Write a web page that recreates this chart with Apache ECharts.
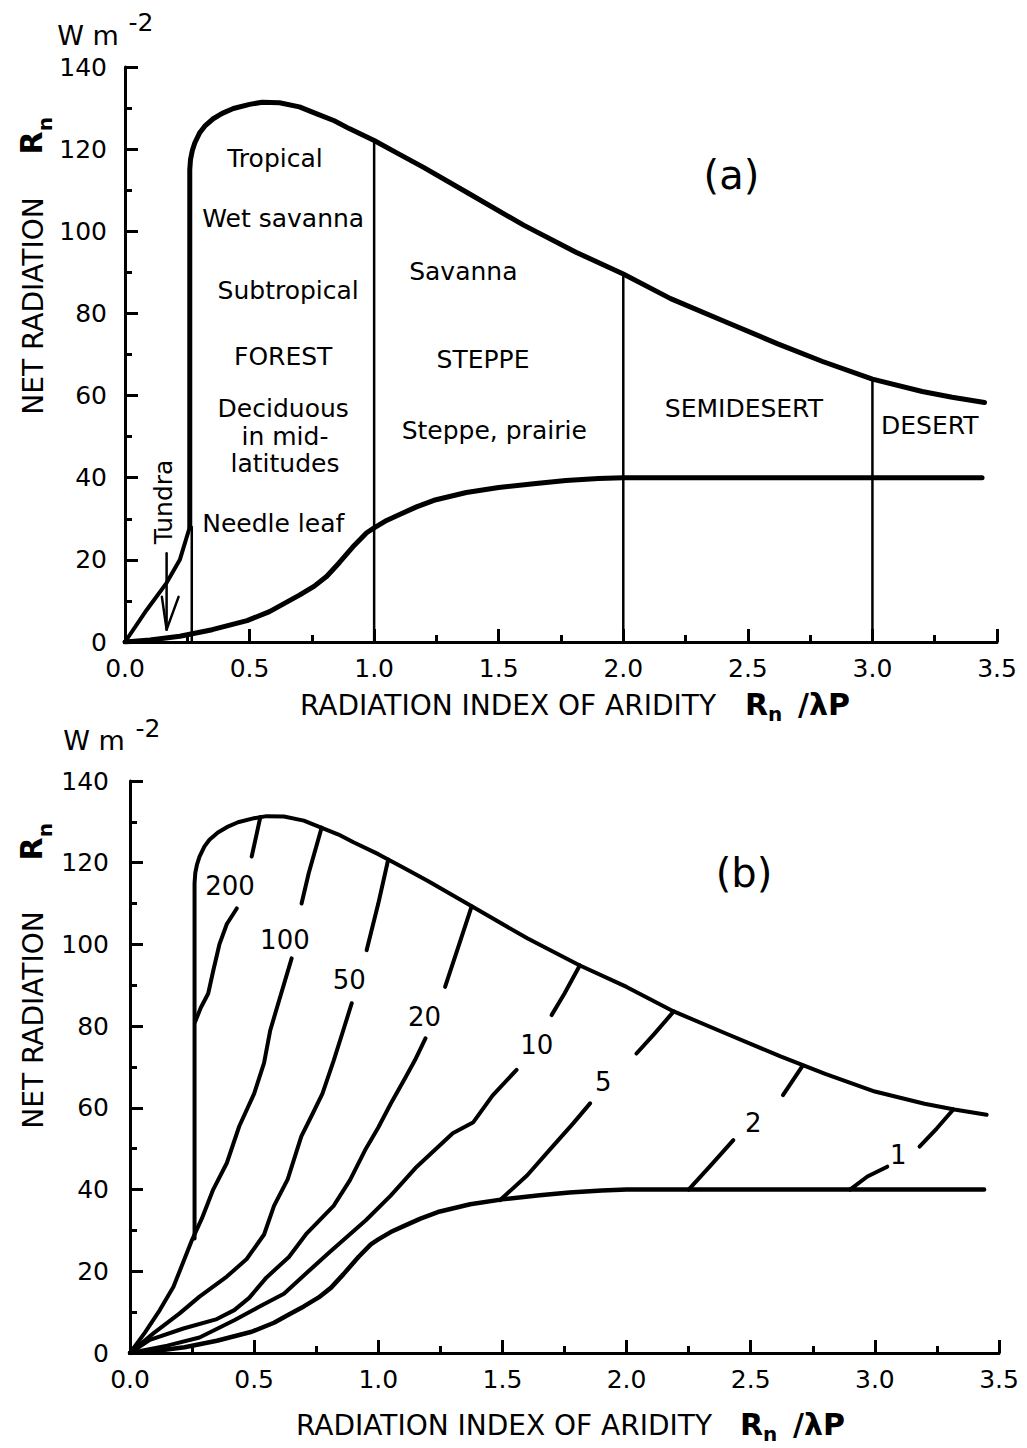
<!DOCTYPE html>
<html>
<head>
<meta charset="utf-8">
<script src="https://cdn.jsdelivr.net/npm/echarts@6/dist/echarts.min.js"></script>
<style>
  html, body { margin: 0; padding: 0; background: #fff; }
  #chart { width: 1027px; height: 1448px; }
</style>
</head>
<body>
<div id="chart"></div>
<script>
const FONT = '"DejaVu Sans", "Liberation Sans", sans-serif';

// ---- axes ----
const xTickLabels = ['0.0', '0.5', '1.0', '1.5', '2.0', '2.5', '3.0', '3.5'];
const yTickLabels = ['0', '20', '40', '60', '80', '100', '120', '140'];

// ---- shared curves: net radiation Rn (W m-2) vs. radiation index of aridity Rn/λP ----
// upper envelope of observed net radiation (starts with the wet edge at ~0.26)
const envelope = [
  [0.26, 28], [0.26, 115], [0.263, 117.5], [0.27, 119.6], [0.28, 121.5], [0.30, 124],
  [0.32, 125.6], [0.354, 127.4], [0.39, 128.7], [0.435, 129.9], [0.5, 130.9], [0.55, 131.4],
  [0.62, 131.3], [0.70, 130.3], [0.77, 128.6], [0.84, 126.9], [0.90, 125], [1.0, 122.1],
  [1.1, 118.8], [1.2, 115.5], [1.38, 109.2], [1.6, 101.5], [1.81, 94.9], [2.0, 89.6],
  [2.19, 83.6], [2.4, 78.2], [2.62, 72.6], [2.8, 68.3], [3.0, 64], [3.2, 61],
  [3.32, 59.6], [3.45, 58.3]
];
// lower limit of net radiation
const lowerLimit = [
  [0, 0], [0.1, 0.5], [0.22, 1.4], [0.35, 3], [0.49, 5.2], [0.58, 7.4], [0.64, 9.4],
  [0.70, 11.4], [0.76, 13.6], [0.81, 16], [0.86, 19.3], [0.92, 23.5], [0.97, 26.6],
  [1.0, 27.8], [1.05, 29.6], [1.1, 31], [1.17, 32.9], [1.24, 34.5], [1.37, 36.4],
  [1.5, 37.6], [1.65, 38.6], [1.77, 39.3], [1.9, 39.8], [2.0, 40], [3.44, 40]
];

// ---- panel (a): vegetation zones ----
const tundraEdge = [[0, 0], [0.087, 7.8], [0.167, 14.4], [0.22, 20], [0.26, 28]];
// zone boundaries: [index of aridity, top of boundary]
const zoneBounds = [[0.268, 28], [1.0, 122.1], [2.0, 89.6], [3.0, 64]];
const tundraArrowShaft = [[0.167, 21.6], [0.167, 3]];
const tundraArrowHead = [[0.148, 11], [0.167, 3], [0.215, 11]];

const zoneNames = [
  'Tropical', 'Wet savanna', 'Subtropical', 'FOREST', 'Deciduous', 'in mid-', 'latitudes',
  'Needle leaf', 'Savanna', 'STEPPE', 'Steppe, prairie', 'SEMIDESERT', 'DESERT'
];
const zoneNamePos = [
  [0.602, 117.8], [0.635, 103.2], [0.655, 85.7], [0.635, 69.5], [0.635, 56.9], [0.642, 50],
  [0.642, 43.5], [0.595, 28.9], [1.358, 90.2], [1.437, 68.7], [1.482, 51.6], [2.484, 56.9],
  [3.23, 52.6]
];
const tundraNamePos = [0.153, 34.1];
const panelAPos = [2.434, 113.7];

// ---- panel (b): isolines, lower and upper pieces of each ----
const contourLevels = ['200', '100', '50', '20', '10', '5', '2', '1'];
const c200Low = [[0.262, 81], [0.285, 84.5], [0.315, 88], [0.335, 93.5], [0.36, 100], [0.39, 105], [0.43, 108.8]];
const c200High = [[0.49, 121.5], [0.51, 127], [0.525, 131.2]];
const c100Low = [
  [0, 0], [0.06, 5], [0.12, 10.5], [0.175, 16.2], [0.25, 27.7], [0.29, 33], [0.335, 40],
  [0.39, 46.5], [0.44, 55.5], [0.5, 63.5], [0.54, 71], [0.565, 79], [0.605, 87.2], [0.651, 96.6]
];
const c100High = [[0.691, 110], [0.72, 117.5], [0.772, 128.6]];
const c50Low = [
  [0, 0], [0.094, 4.8], [0.2, 9.7], [0.28, 13.8], [0.39, 18.7], [0.47, 23], [0.54, 29],
  [0.58, 36], [0.635, 42.5], [0.69, 53], [0.735, 58.5], [0.775, 63.5], [0.82, 71.5],
  [0.859, 79], [0.893, 85.6]
];
const c50High = [[0.953, 98.6], [1.0, 110], [1.04, 120.8]];
const c20Low = [
  [0, 0], [0.08, 3.2], [0.215, 6], [0.35, 8.3], [0.42, 10.5], [0.48, 13.5], [0.55, 18.5],
  [0.64, 23.5], [0.712, 29.3], [0.82, 36], [0.886, 42.3], [0.95, 50], [1.0, 55.2],
  [1.05, 61], [1.11, 67.5], [1.148, 71.7], [1.19, 77]
];
const c20High = [[1.269, 89.6], [1.32, 99], [1.376, 109.3]];
const c10Low = [
  [0, 0], [0.15, 1.8], [0.28, 3.8], [0.42, 8], [0.52, 11.3], [0.62, 14.5], [0.71, 19.5],
  [0.8, 24.5], [0.95, 32.5], [1.05, 38.5], [1.155, 45.6], [1.30, 53.8], [1.383, 56.5],
  [1.46, 63], [1.557, 69.3]
];
const c10High = [[1.698, 82.7], [1.75, 88], [1.812, 94.9]];
const c5Low = [[1.49, 37.4], [1.6, 43.5], [1.69, 49.7], [1.785, 56.2], [1.853, 61.1]];
const c5High = [[2.04, 73.3], [2.11, 78], [2.19, 83.6]];
const c2Low = [[2.25, 40], [2.34, 46], [2.43, 52.1]];
const c2High = [[2.63, 63.1], [2.71, 70.4]];
const c1Low = [[2.90, 40], [2.97, 43.2], [3.05, 45.6]];
const c1High = [[3.18, 50.5], [3.25, 55], [3.316, 59.6]];
const contourLabelPos = [
  [0.403, 114.4], [0.624, 101.1], [0.883, 91.3], [1.186, 82.3],
  [1.638, 75.4], [1.906, 66.4], [2.51, 56.2], [3.094, 48.5]
];
const panelBPos = [2.473, 117.4];

// ---- builders ----
function xAxisFor(gridIndex) {
  return {
    type: 'value', gridIndex, min: 0, max: 3.5, interval: 0.5,
    axisLine: { show: true, onZero: false, lineStyle: { color: '#000', width: 3 } },
    axisTick: { show: true, inside: true, length: 13, lineStyle: { color: '#000', width: 3 } },
    minorTick: { show: true, splitNumber: 2, length: 7, lineStyle: { color: '#000', width: 3 } },
    splitLine: { show: false }, minorSplitLine: { show: false },
    axisLabel: {
      color: '#000', fontFamily: FONT, fontSize: 25, margin: 14,
      showMinLabel: true, showMaxLabel: true, hideOverlap: false,
      formatter: v => xTickLabels[Math.round(v / 0.5)]
    }
  };
}
function yAxisFor(gridIndex, margin) {
  return {
    type: 'value', gridIndex, min: 0, max: 140, interval: 20,
    axisLine: { show: true, onZero: false, lineStyle: { color: '#000', width: 3 } },
    axisTick: { show: true, inside: true, length: 13, lineStyle: { color: '#000', width: 3 } },
    minorTick: { show: true, splitNumber: 2, length: 7, lineStyle: { color: '#000', width: 3 } },
    splitLine: { show: false }, minorSplitLine: { show: false },
    axisLabel: {
      color: '#000', fontFamily: FONT, fontSize: 25, margin,
      showMinLabel: true, showMaxLabel: true, hideOverlap: false,
      formatter: v => yTickLabels[Math.round(v / 20)]
    }
  };
}
function path(data, idx, width) {
  return {
    type: 'line', xAxisIndex: idx, yAxisIndex: idx, data,
    showSymbol: false, symbol: 'none', smooth: false,
    silent: true, z: 3,
    lineStyle: { color: '#000', width, cap: 'round', join: 'round' },
    emphasis: { disabled: true }
  };
}
function labels(items, idx, fontSize, rotate) {
  return {
    type: 'scatter', xAxisIndex: idx, yAxisIndex: idx, symbolSize: 0.5, silent: true, z: 5,
    itemStyle: { color: '#fff', opacity: 1 },
    data: items,
    label: {
      show: true, position: 'inside', formatter: '{b}', rotate: rotate || 0,
      color: '#000', opacity: 1, textBorderWidth: 0, fontFamily: FONT, fontSize
    },
    emphasis: { disabled: true }
  };
}
function txt(text, x, y, size, opts) {
  opts = opts || {};
  const align = opts.align || 'center';
  return {
    type: 'text', x, y, rotation: opts.rotation || 0, silent: true, z: 10,
    style: {
      text, x: 0, y: 0, fill: '#000',
      font: (opts.bold ? 'bold ' : '') + size + 'px ' + FONT,
      align, textAlign: align, verticalAlign: 'middle', textVerticalAlign: 'middle'
    }
  };
}

const series = [];
// panel (a)
series.push(path(envelope, 0, 5));
series.push(path(lowerLimit, 0, 5));
series.push(path(tundraEdge, 0, 4));
zoneBounds.forEach(b => series.push(path([[b[0], 0], [b[0], b[1]]], 0, 2.5)));
series.push(path(tundraArrowShaft, 0, 2.5));
series.push(path(tundraArrowHead, 0, 2.5));
series.push(labels(zoneNames.map((n, i) => ({ name: n, value: zoneNamePos[i] })), 0, 25));
series.push(labels([{ name: 'Tundra', value: tundraNamePos }], 0, 25, 90));
series.push(labels([{ name: '(a)', value: panelAPos }], 0, 40));

// panel (b)
series.push(path(envelope, 1, 4));
series.push(path(lowerLimit, 1, 4.5));
[c200Low, c200High, c100Low, c100High, c50Low, c50High, c20Low, c20High,
 c10Low, c10High, c5Low, c5High, c2Low, c2High, c1Low, c1High]
  .forEach(c => series.push(path(c, 1, 4)));
series.push(labels(contourLevels.map((n, i) => ({ name: n, value: contourLabelPos[i] })), 1, 26));
series.push(labels([{ name: '(b)', value: panelBPos }], 1, 40));

const R90 = Math.PI / 2;
const graphic = [
  // panel (a) titles
  txt('W m', 88, 35, 27), txt('-2', 141, 22, 25),
  txt('NET RADIATION', 33, 306, 28, { rotation: R90 }),
  txt('R', 31, 143, 30, { rotation: R90, bold: true }),
  txt('n', 45, 124, 20, { rotation: R90, bold: true }),
  txt('RADIATION INDEX OF ARIDITY', 300, 705, 28, { align: 'left' }),
  txt('R', 745, 704, 30, { align: 'left', bold: true }),
  txt('n', 768, 714, 20, { align: 'left', bold: true }),
  txt('/λP', 798, 704, 30, { align: 'left', bold: true }),
  // panel (b) titles
  txt('W m', 94, 740, 27), txt('-2', 148, 728, 25),
  txt('NET RADIATION', 33, 1020, 28, { rotation: R90 }),
  txt('R', 31, 849, 30, { rotation: R90, bold: true }),
  txt('n', 45, 830, 20, { rotation: R90, bold: true }),
  txt('RADIATION INDEX OF ARIDITY', 296, 1425, 28, { align: 'left' }),
  txt('R', 740, 1424, 30, { align: 'left', bold: true }),
  txt('n', 763, 1434, 20, { align: 'left', bold: true }),
  txt('/λP', 793, 1424, 30, { align: 'left', bold: true })
];

const chart = echarts.init(document.getElementById('chart'), null, { renderer: 'svg' });
chart.setOption({
  backgroundColor: '#fff',
  animation: false,
  grid: [
    { left: 125, top: 67, width: 872, height: 575, outerBoundsMode: 'none', containLabel: false },
    { left: 130, top: 781, width: 869, height: 572, outerBoundsMode: 'none', containLabel: false }
  ],
  xAxis: [xAxisFor(0), xAxisFor(1)],
  yAxis: [yAxisFor(0, 18), yAxisFor(1, 21)],
  series,
  graphic
});
</script>
</body>
</html>
